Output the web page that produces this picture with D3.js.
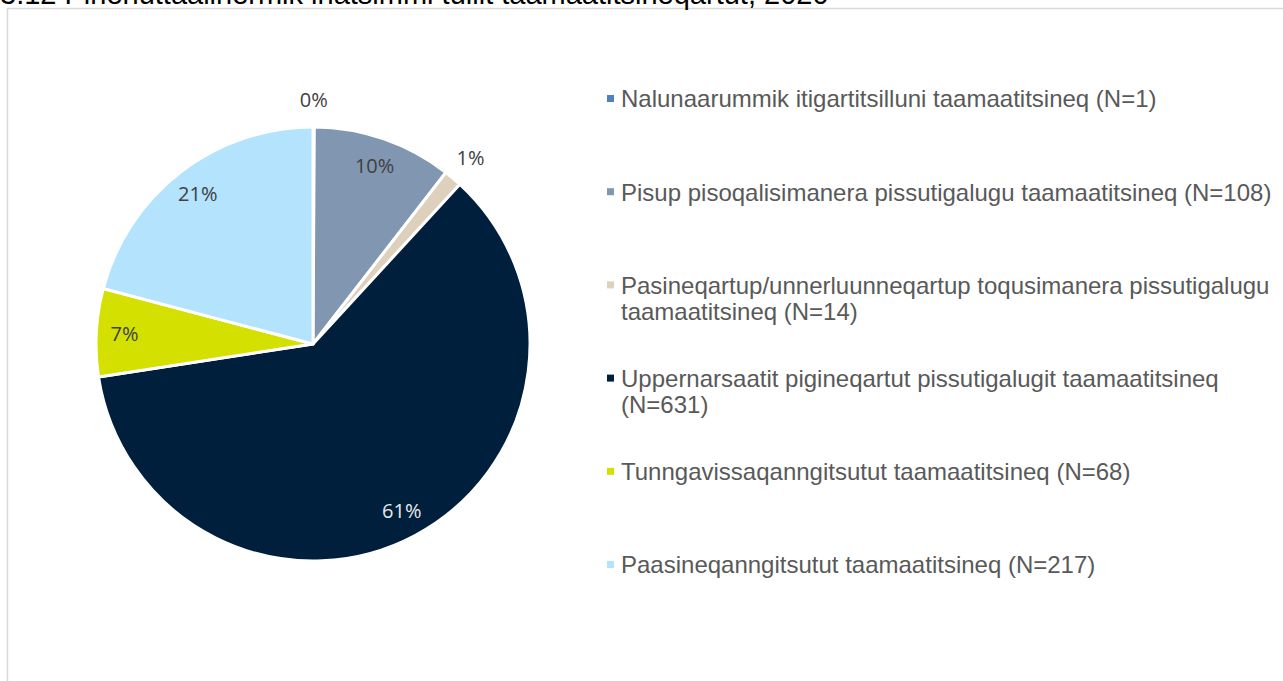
<!DOCTYPE html>
<html>
<head>
<meta charset="utf-8">
<script src="https://cdn.jsdelivr.net/npm/d3@7"></script>
<style>
  body { margin: 0; background: #fff; overflow: hidden; }
  svg { display: block; }
</style>
</head>
<body>
<div id="chart"></div>
<script>
const title = "3.12 Pinerluttaalinermik inatsimmi tullit taamaatitsineqartut, 2020";
const categories = [
    "Nalunaarummik itigartitsilluni taamaatitsineq (N=1)",
    "Pisup pisoqalisimanera pissutigalugu taamaatitsineq (N=108)",
    "Pasineqartup/unnerluunneqartup toqusimanera pissutigalugu taamaatitsineq (N=14)",
    "Uppernarsaatit pigineqartut pissutigalugit taamaatitsineq (N=631)",
    "Tunngavissaqanngitsutut taamaatitsineq (N=68)",
    "Paasineqanngitsutut taamaatitsineq (N=217)"
];
const values = [1, 108, 14, 631, 68, 217];
const colors = ["#4f81bd", "#8096b1", "#ddd0bc", "#001f3c", "#d4e100", "#b3e3fd"];
const outside = [true, false, true, false, false, false];

const W = 1283, H = 681;
const cx = 313, cy = 344, R = 217;

const svg = d3.select("#chart")
    .append("svg")
        .attr("width", W)
        .attr("height", H);

// chart frame
svg.append("rect")
    .attr("x", 7.5)
    .attr("y", 8.5)
    .attr("width", W)
    .attr("height", H)
    .attr("fill", "#fff")
    .attr("stroke", "#d9d9d9")
    .attr("stroke-width", 1.5);

// title (cut by the top of the window, as in the source)
svg.append("text")
    .attr("x", 0)
    .attr("y", 4)
    .style("font-family", "Liberation Sans, Arial, sans-serif")
    .style("font-size", "29px")
    .style("fill", "#000")
    .text(title);

const data = categories.map((c, i) => ({ name: c, value: values[i], i }));
const total = d3.sum(values);

const pie = d3.pie()
    .value(d => d.value)
    .sort(null);

const arcs = pie(data);
const arc = d3.arc().innerRadius(0).outerRadius(R);
const inLabel = d3.arc().innerRadius(R * 0.87).outerRadius(R * 0.87);
const outLabel = d3.arc().innerRadius(R + 27).outerRadius(R + 27);

const g = svg.append("g").attr("transform", `translate(${cx},${cy})`);

g.selectAll(".slice")
    .data(arcs)
    .enter()
    .append("path")
        .attr("class", "slice")
        .attr("d", arc)
        .attr("fill", d => colors[d.data.i])
        .attr("stroke", "#fff")
        .attr("stroke-width", 3)
        .attr("stroke-linejoin", "round");

g.selectAll(".pct")
    .data(arcs)
    .enter()
    .append("text")
        .attr("class", "pct")
        .attr("transform", d => {
            const p = (outside[d.data.i] ? outLabel : inLabel).centroid(d);
            return `translate(${p[0]},${p[1]})`;
        })
        .attr("text-anchor", "middle")
        .attr("dy", "0.35em")
        .style("font-family", "Open Sans, Lato, sans-serif")
        .style("font-size", "20px")
        .style("fill", d => d.data.i === 3 ? "#e8e8e8" : "#404040")
        .text(d => Math.round(d.data.value / total * 100) + "%");

// legend
const ly = d3.scalePoint()
    .domain(d3.range(categories.length))
    .range([99, 565]);

const legend = svg.append("g");
const maxW = 655;

const item = legend.selectAll(".item")
    .data(data)
    .enter()
    .append("g")
        .attr("class", "item")
        .attr("transform", d => `translate(607,${ly(d.i)})`);

item.append("rect")
    .attr("x", 0)
    .attr("y", -4)
    .attr("width", 7)
    .attr("height", 7)
    .attr("fill", d => colors[d.i]);

item.each(function (d) {
    const t = d3.select(this).append("text")
        .style("font-family", "Liberation Sans, Arial, sans-serif")
        .style("font-size", "24px")
        .style("fill", "#595959");
    const words = d.name.split(" ");
    let line = [];
    let ts = t.append("tspan").attr("x", 14).attr("y", 0).attr("dy", "0.35em");
    let n = 0;
    words.forEach(w => {
        line.push(w);
        ts.text(line.join(" "));
        if (ts.node().getComputedTextLength() > maxW && line.length > 1) {
            line.pop();
            ts.text(line.join(" "));
            line = [w];
            n++;
            ts = t.append("tspan").attr("x", 14).attr("y", n * 26).attr("dy", "0.35em").text(w);
        }
    });
});
</script>
</body>
</html>
